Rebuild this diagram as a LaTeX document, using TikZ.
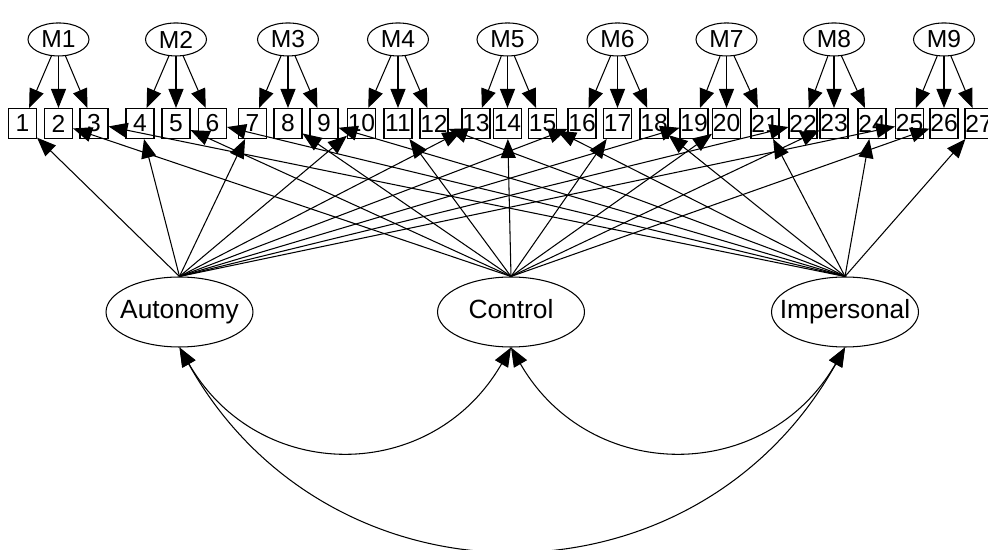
\documentclass[tikz,border=0pt]{standalone}
\usepackage{fontspec}
\setmainfont{Liberation Sans}
\usetikzlibrary{shapes.geometric, arrows.meta, positioning}
\tikzset{
    item/.style={rectangle, draw=black, fill=white, line width=0.6pt, minimum width=0.56cm, minimum height=0.6cm, inner sep=0pt, font=\fontsize{14}{16}\selectfont},
    motive/.style={ellipse, draw=black, fill=white, line width=0.6pt, minimum width=1.22cm, minimum height=0.66cm, inner sep=0pt, font=\fontsize{14}{16}\selectfont},
    factor/.style={ellipse, draw=black, fill=white, line width=0.6pt, minimum width=2.94cm, minimum height=1.4cm, inner sep=0pt, text height=0.72em, text depth=0pt, font=\fontsize{15}{17}\selectfont},
    arrow/.style={line width=0.6pt, -{Triangle[length=0.38cm, width=0.3cm]}},
    covarrow/.style={line width=0.6pt, {Triangle[length=0.38cm, width=0.3cm]}-{Triangle[length=0.38cm, width=0.3cm]}}
}

\begin{document}
\begin{tikzpicture}[x=0.02cm, y=-0.02cm]
    \useasboundingbox (0,0) rectangle (988,550);

    % observed items
    \foreach \i/\x in {1/22.5, 2/58.5, 3/94, 4/140, 5/176, 6/212.5, 7/252.5, 8/288, 9/324,
                       10/361.5, 11/398, 12/434, 13/476, 14/507.5, 15/542.5, 16/582, 17/617.5, 18/654,
                       19/694, 20/726.5, 21/765, 22/803, 23/834, 24/872, 25/909.5, 26/944, 27/979}
        \node (b\i) [item] at (\x,123.5) {\i};

    % method factors M1..M9 above the middle item of each triple
    \foreach \m in {1,...,9} {
        \pgfmathtruncatemacro\c{3*\m-1}
        \node (m\m) [motive, above=1.03cm of b\c] {M\m};
        \foreach \j in {-2,-1,0} {
            \pgfmathtruncatemacro\t{3*\m+\j}
            \draw [arrow] (m\m) -- (b\t);
        }
    }

    % orientations
    \node (aut) [factor] at (179.5,312) {\makebox[0pt]{Autonomy}};
    \node (con) [factor] at (511,312) {\makebox[0pt]{Control}};
    \node (imp) [factor] at (845,312) {\makebox[0pt]{Impersonal}};

    \foreach \k in {0,...,8} {
        \pgfmathtruncatemacro\a{3*\k+1}
        \pgfmathtruncatemacro\b{3*\k+2}
        \pgfmathtruncatemacro\c{3*\k+3}
        \draw [arrow] (aut.north) -- (b\a);
        \draw [arrow] (con.north) -- (b\b);
        \draw [arrow] (imp.north) -- (b\c);
    }

    % correlations
    \draw [covarrow] (aut.south) .. controls +(79,137) and +(-79,137) .. (con.south);
    \draw [covarrow] (con.south) .. controls +(79,137) and +(-79,137) .. (imp.south);
    \draw [covarrow] (aut.south) .. controls +(150,268) and +(-150,268) .. (imp.south);
\end{tikzpicture}
\end{document}
